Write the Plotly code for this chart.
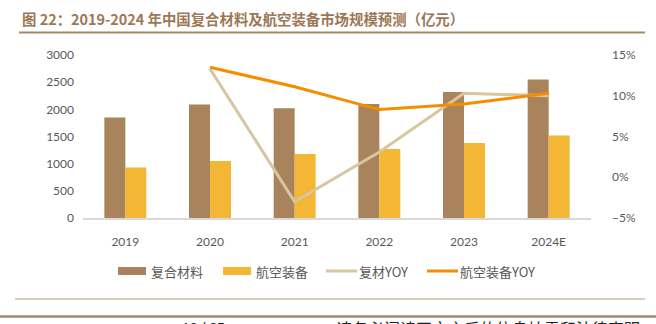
import plotly.graph_objects as go

# Market size (100 million CNY) and year-over-year growth
years = ["2019", "2020", "2021", "2022", "2023", "2024E"]
composites = [1850, 2090, 2020, 2100, 2320, 2550]
aero_equipment = [930, 1050, 1180, 1270, 1380, 1520]
composites_yoy = [None, 0.133, -0.030, 0.031, 0.103, 0.100]
aero_yoy = [None, 0.135, 0.111, 0.083, 0.090, 0.103]

series_names = ["复合材料", "航空装备", "复材YOY", "航空装备YOY"]
title_text = "图 22：2019-2024 年中国复合材料及航空装备市场规模预测（亿元）"

BROWN = "#A9835C"
YELLOW = "#F3B735"
BEIGE = "#D7C69F"
ORANGE = "#F58D00"
TICK = "#595959"
RULE = "#A88866"

W, H = 656, 324
L, R, T, B = 83, 591, 55, 218  # plot area in pixels


def px(x):
    return (x - L) / (R - L)


def py(y):
    return (B - y) / (B - T)


fig = go.Figure()
fig.add_bar(x=years, y=composites, name=series_names[0], marker_color=BROWN,
            marker_line_width=0, showlegend=False)
fig.add_bar(x=years, y=aero_equipment, name=series_names[1], marker_color=YELLOW,
            marker_line_width=0, showlegend=False)
fig.add_scatter(x=years, y=composites_yoy, name=series_names[2], yaxis="y2",
                mode="lines", line=dict(color=BEIGE, width=3), showlegend=False)
fig.add_scatter(x=years, y=aero_yoy, name=series_names[3], yaxis="y2",
                mode="lines", line=dict(color=ORANGE, width=3), showlegend=False)

shapes = []
annotations = []

# Legend row below the axis
legend_y = 271
items = [
    ("bar", BROWN, 118, series_names[0]),
    ("bar", YELLOW, 223, series_names[1]),
    ("line", BEIGE, 326, series_names[2]),
    ("line", ORANGE, 427, series_names[3]),
]
for kind, color, x0, label in items:
    if kind == "bar":
        shapes.append(dict(type="rect", xref="paper", yref="paper",
                           x0=px(x0), x1=px(x0 + 28), y0=py(legend_y + 4), y1=py(legend_y - 4),
                           fillcolor=color, line_width=0))
    else:
        shapes.append(dict(type="line", xref="paper", yref="paper",
                           x0=px(x0), x1=px(x0 + 31), y0=py(legend_y), y1=py(legend_y),
                           line=dict(color=color, width=3)))
    annotations.append(dict(text=label, xref="paper", yref="paper",
                            x=px(x0 + 31), y=py(legend_y), xanchor="left", yanchor="middle",
                            showarrow=False, font=dict(size=13, color=TICK,
                                                       family="Noto Sans CJK SC")))

# Title and page rules
annotations.append(dict(text="<b>" + title_text + "</b>", xref="paper", yref="paper",
                        x=px(20), y=py(18), xanchor="left", yanchor="middle",
                        showarrow=False,
                        font=dict(size=14.4, color="#9C7755", family="Noto Sans CJK SC")))
shapes.append(dict(type="line", xref="paper", yref="paper", x0=px(19), x1=px(645),
                   y0=py(32.5), y1=py(32.5), line=dict(color=RULE, width=2)))
shapes.append(dict(type="line", xref="paper", yref="paper", x0=px(15), x1=px(645),
                   y0=py(299), y1=py(299), line=dict(color="#B49A80", width=1)))
shapes.append(dict(type="line", xref="paper", yref="paper", x0=px(0), x1=px(656),
                   y0=py(316.5), y1=py(316.5), line=dict(color=RULE, width=2.5)))

# Page footer, partly below the visible area
annotations.append(dict(text="18 / 35", xref="paper", yref="paper",
                        x=px(180), y=py(328), xanchor="left", yanchor="middle",
                        showarrow=False, font=dict(size=14, color="#222222", family="Liberation Sans")))
annotations.append(dict(text="请务必阅读正文之后的信息披露和法律声明", xref="paper", yref="paper",
                        x=px(642), y=py(328), xanchor="right", yanchor="middle",
                        showarrow=False, font=dict(size=16, color="#222222",
                                                   family="Noto Sans CJK SC")))

fig.update_layout(
    width=W, height=H,
    margin=dict(l=L, r=W - R, t=T, b=H - B),
    paper_bgcolor="white", plot_bgcolor="white",
    barmode="group", bargap=0.504, bargroupgap=0,
    font=dict(family="Lato", size=12, color=TICK),
    xaxis=dict(type="category", showgrid=False, showline=True, linecolor="#D9D9D9",
               linewidth=1.5, ticks="", ticklabelstandoff=12,
               tickfont=dict(size=12, color=TICK)),
    yaxis=dict(range=[0, 3000], dtick=500, showgrid=False, zeroline=False,
               showline=False, ticks="", ticklabelstandoff=8,
               tickfont=dict(size=12, color=TICK)),
    yaxis2=dict(range=[-0.05, 0.15], dtick=0.05, tickformat=".0%", overlaying="y",
                side="right", showgrid=False, zeroline=False, showline=False,
                ticks="", ticklabelstandoff=20, tickfont=dict(size=12, color=TICK)),
    shapes=shapes, annotations=annotations,
    showlegend=False,
)

fig.write_html("out.html")
